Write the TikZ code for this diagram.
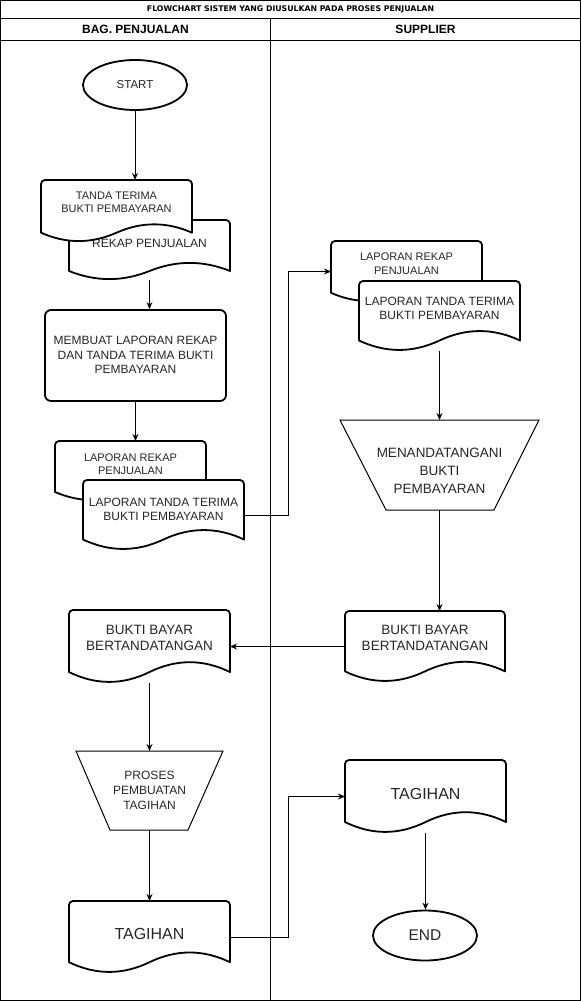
\documentclass[tikz,border=0pt]{standalone}
\usepackage{fontspec}
\setmainfont{Liberation Sans}
\newfontfamily\titlefont{DejaVu Sans}
\usetikzlibrary{arrows.meta,shapes.geometric,calc}

\newcommand\fs[2]{\fontsize{#1}{#2}\selectfont}

\tikzset{
  docline/.style={line width=1.8pt, draw=black, fill=white, line join=round},
  thinshape/.style={line width=1pt, draw=black, fill=white},
  conn/.style={line width=1pt, -{Stealth[length=7pt,width=6pt]}},
  frameline/.style={line width=1pt},
  ghost/.style={draw=none, inner sep=0pt, outer sep=0pt},
  lbl/.style={text=black!85, align=center, inner sep=0pt},
  hdr/.style={text=black, align=center, inner sep=0pt},
  term/.style={ellipse, draw=black, line width=1.8pt, fill=white, inner sep=0pt,
    minimum width=104pt, minimum height=50pt, text=black!85},
}

% name, left, top, width, height, text centre y, font, text
\newcommand\docshape[8]{%
  \draw[docline] (#2, #3+0.85*#5) -- (#2, #3+4)
    arc[start angle=180, end angle=270, radius=4]
    -- (#2+#4-4, #3)
    arc[start angle=270, end angle=360, radius=4]
    -- (#2+#4, #3+0.85*#5)
    .. controls (#2+0.8333*#4, #3+0.67*#5) and (#2+0.6667*#4, #3+0.67*#5) .. (#2+0.5*#4, #3+0.85*#5)
    .. controls (#2+0.3333*#4, #3+1.03*#5) and (#2+0.1667*#4, #3+1.03*#5) .. (#2, #3+0.85*#5)
    -- cycle;
  \node[ghost, minimum width=#4pt, minimum height=#5pt] (#1) at (#2+0.5*#4, #3+0.5*#5) {};
  \node[lbl, font=#7] at (#2+0.5*#4, #6) {#8};
}

\begin{document}
\begin{tikzpicture}[x=1pt,y=-1pt]
\useasboundingbox (0,0) rectangle (581,1001);

% frame
\draw[frameline] (0.5,0.5) rectangle (580.5,1000.5);
\draw[frameline] (0.5,18.5) -- (580.5,18.5);
\draw[frameline] (0.5,40.5) -- (580.5,40.5);
\draw[frameline] (270.5,18.5) -- (270.5,1000.5);
\node[hdr, font=\titlefont\bfseries\fs{7.8}{9}] (title) at (290.5,9.5) {FLOWCHART SISTEM YANG DIUSULKAN PADA PROSES PENJUALAN};
\node[hdr, font=\bfseries\fs{12}{14}] (lane1) at (135.5,29.5) {BAG. PENJUALAN};
\node[hdr, font=\bfseries\fs{12}{14}] (lane2) at (425.5,29.5) {SUPPLIER};

% left lane
\node[term, font=\fs{11.5}{14}] (start) at (135,85) {START};

\docshape{doc2}{69}{220}{161}{60}{243}{\fs{12}{14}}{REKAP PENJUALAN}
\docshape{doc1}{41}{180}{151}{62}{202.5}{\fs{11}{13}}{TANDA TERIMA\\BUKTI PEMBAYARAN}

\node[draw=black, line width=1.8pt, rounded corners=6pt, fill=white,
  minimum width=181pt, minimum height=91pt, inner sep=0pt] (proc) at (135.5,355.5) {};
\node[lbl, font=\fs{12}{14.5}] (proctext) at (135.5,355) {MEMBUAT LAPORAN REKAP\\DAN TANDA TERIMA BUKTI\\PEMBAYARAN};

\docshape{doc3}{55}{441}{151}{60}{464}{\fs{11}{12.5}}{LAPORAN REKAP\\PENJUALAN}
\docshape{doc4}{83}{480}{161}{70}{509}{\fs{12}{14}}{LAPORAN TANDA TERIMA\\BUKTI PEMBAYARAN}

\docshape{doc7L}{69}{610}{161}{73}{638}{\fs{13.5}{16}}{BUKTI BAYAR\\BERTANDATANGAN}

\draw[thinshape] (76,751) -- (223,751) -- (188,830) -- (110,830) -- cycle;
\node[ghost, minimum width=147pt, minimum height=79pt] (trap2) at (149.5,790.5) {};
\node[lbl, font=\fs{12}{15}] (trap2text) at (149.5,790) {PROSES\\PEMBUATAN\\TAGIHAN};

\docshape{doc8}{69}{901}{161}{72}{934}{\fs{16}{18}}{TAGIHAN}

% right lane
\docshape{doc5}{331}{241}{151}{61}{264}{\fs{11}{14}}{LAPORAN REKAP\\PENJUALAN}
\docshape{doc6}{359}{281}{161}{70}{308.5}{\fs{12}{13.5}}{LAPORAN TANDA TERIMA\\BUKTI PEMBAYARAN}

\draw[thinshape] (340,420) -- (539,420) -- (494,510) -- (386,510) -- cycle;
\node[ghost, minimum width=199pt, minimum height=90pt] (trap1) at (439.5,465) {};
\node[lbl, font=\fs{13.5}{18}] (trap1text) at (439.5,471) {MENANDATANGANI\\BUKTI\\PEMBAYARAN};

\docshape{doc7R}{345}{611}{160}{71}{637.5}{\fs{13.5}{16}}{BUKTI BAYAR\\BERTANDATANGAN}
\docshape{doc9}{345}{760}{161}{73}{794}{\fs{16}{18}}{TAGIHAN}

\node[term, font=\fs{15.5}{18}] (end) at (425,935.5) {END};

% connectors
\coordinate (j1) at (288,0);
\draw[conn] (start.south) -- (start.south |- doc1.north);
\draw[conn] (doc2.south) -- (doc2.south |- proc.north);
\draw[conn] (proc.south) -- (proc.south |- doc3.north);
\draw[conn] (doc4.east) -- (doc4.east -| j1) |- (doc5.west);
\draw[conn] (doc6.south) -- (doc6.south |- trap1.north);
\draw[conn] (trap1.south) -- (trap1.south |- doc7R.north);
\draw[conn] (doc7R.west) -- (doc7R.west -| doc7L.east);
\draw[conn] (doc7L.south) -- (doc7L.south |- trap2.north);
\draw[conn] (trap2.south) -- (trap2.south |- doc8.north);
\draw[conn] (doc8.east) -- (doc8.east -| j1) |- (doc9.west);
\draw[conn] (doc9.south) -- (doc9.south |- end.north);
\end{tikzpicture}
\end{document}
